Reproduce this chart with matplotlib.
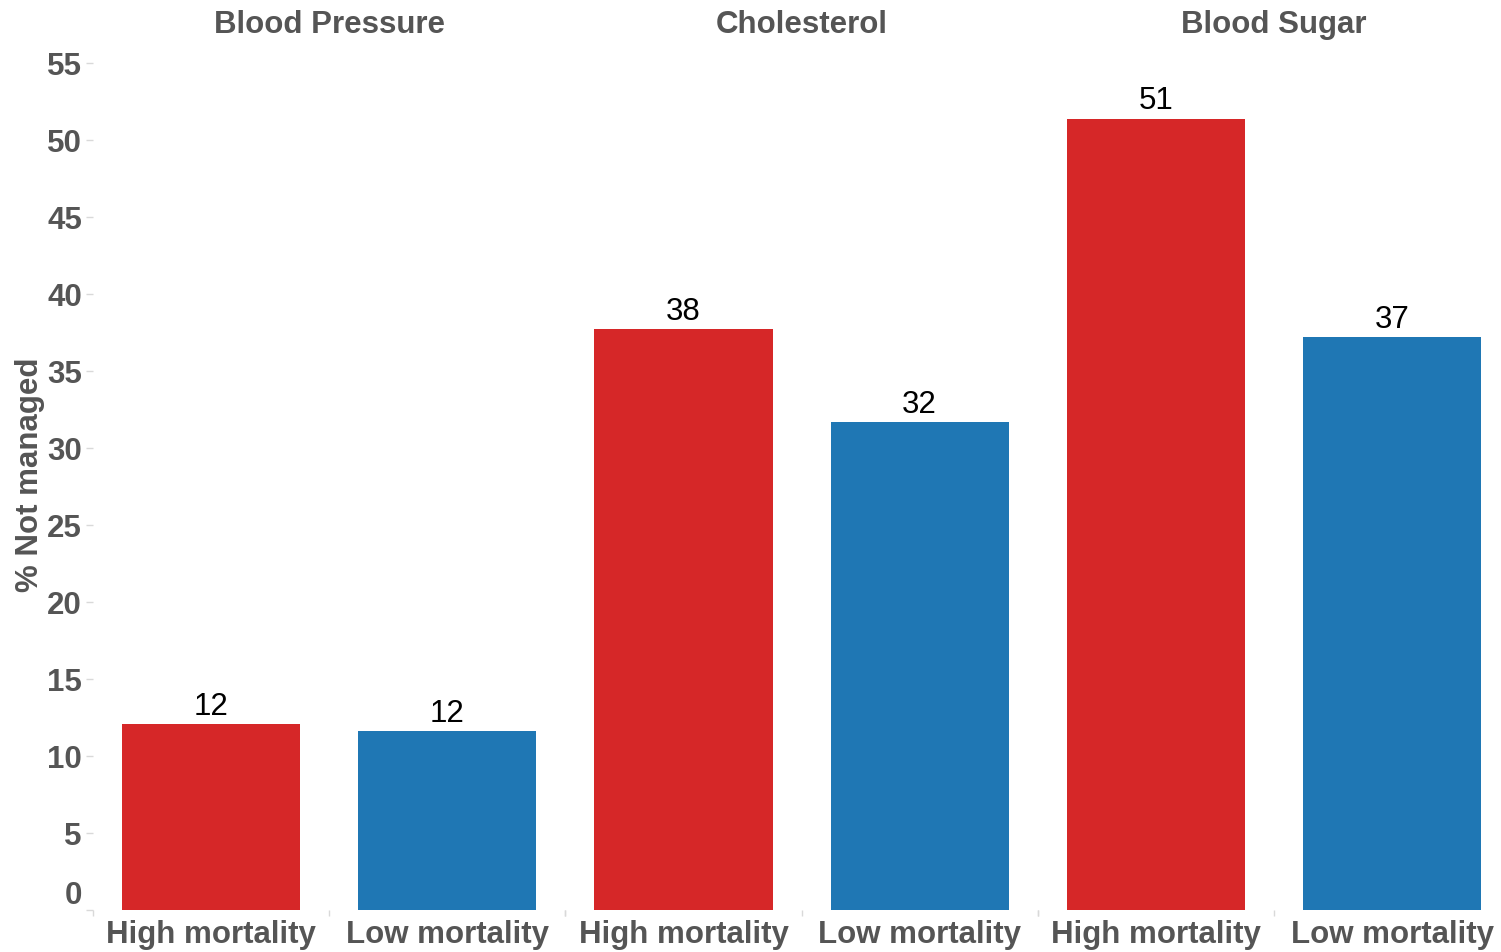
import matplotlib
matplotlib.use("Agg")
import matplotlib.pyplot as plt
import matplotlib.transforms as mtransforms
from matplotlib.ticker import FixedLocator

plt.rcParams['font.family'] = ['Liberation Sans', 'DejaVu Sans']

# unmanaged risk factor shares by mortality group
panels = ['Blood Pressure', 'Cholesterol', 'Blood Sugar']
groups = ['High mortality', 'Low mortality']
high_vals = [12.1, 37.7, 51.4]
low_vals = [11.6, 31.7, 37.2]
bar_colors = ['#d62728', '#1f77b4']
yticks = list(range(0, 60, 5))

grey = '#555555'
tick_grey = '#d9d9d9'
fs = 22.5

fig = plt.figure(figsize=(15.01, 9.52), dpi=100)
left, bottom, top = 93 / 1501, 42 / 952, 1 - 40 / 952
panel_w = 2 * 236.2 / 1501

axes = []
for i, name in enumerate(panels):
    ax = fig.add_axes([left + i * panel_w, bottom, panel_w, top - bottom],
                      sharey=axes[0] if axes else None)
    vals = [high_vals[i], low_vals[i]]
    ax.bar([0, 1], vals, width=0.755, color=bar_colors, zorder=2)
    for x, v in zip([0, 1], vals):
        ax.annotate(f'{v:.0f}', (x, v), xytext=(0, 1.5), textcoords='offset points',
                    ha='center', va='bottom', fontsize=fs, color='black')
    ax.set_xlim(-0.5, 1.5)
    ax.set_xticks([0, 1])
    ax.set_xticklabels(groups, fontsize=fs, fontweight='bold', color=grey)
    ax.xaxis.set_minor_locator(FixedLocator([-0.5, 0.5, 1.5]))
    ax.tick_params(axis='x', which='major', length=0, pad=7)
    ax.tick_params(axis='x', which='minor', length=4, width=1, color=tick_grey)
    ax.set_title(name, fontsize=fs, fontweight='bold', color=grey, pad=2)
    for s in ax.spines.values():
        s.set_visible(False)
    if i == 0:
        ax.set_ylim(0, 56.5)
        ax.yaxis.set_major_locator(FixedLocator(yticks))
        ax.set_yticklabels([str(t) for t in yticks])
        ax.tick_params(axis='y', length=5, width=1, color=tick_grey,
                       labelsize=fs, labelcolor=grey, pad=3)
        for lab in ax.get_yticklabels():
            lab.set_fontweight('bold')
        ax.set_ylabel('% Not managed', fontsize=fs, fontweight='bold', color=grey,
                      labelpad=1)
        # lift the zero label clear of the baseline
        zero = ax.yaxis.get_major_ticks()[0].label1
        zero.set_transform(zero.get_transform() +
                           mtransforms.ScaledTranslation(0, 18 / 100, fig.dpi_scale_trans))
    else:
        ax.tick_params(axis='y', left=False, labelleft=False)
    axes.append(ax)

fig.savefig('out.png', dpi=100)
